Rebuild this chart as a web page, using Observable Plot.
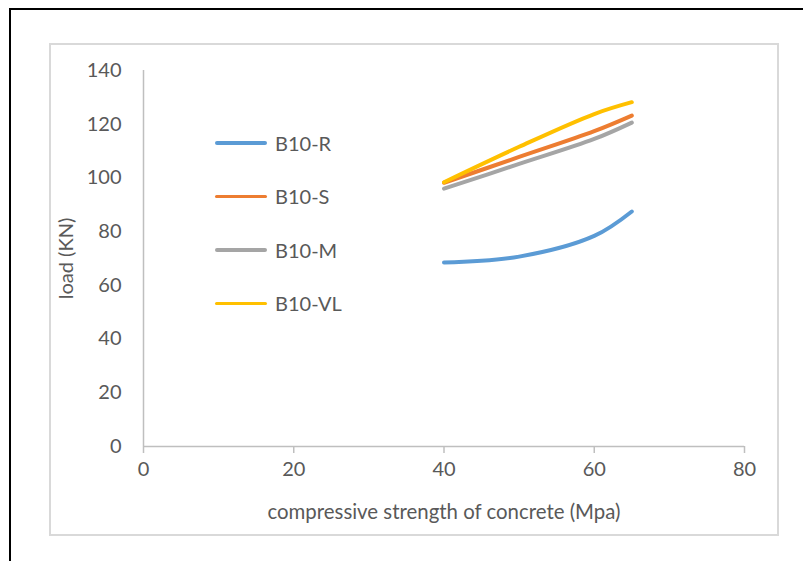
<!DOCTYPE html>
<html>
<head>
<meta charset="utf-8">
<script src="https://cdn.jsdelivr.net/npm/d3@7"></script>
<script src="https://cdn.jsdelivr.net/npm/@observablehq/plot@0.6"></script>
<style>
  html, body { margin: 0; padding: 0; background: #fff; }
  #wrap { position: relative; width: 803px; height: 561px; overflow: hidden; font-family: Lato, "Open Sans", sans-serif; }
  #outer { position: absolute; left: 9px; top: 8px; right: -5px; bottom: -5px; border-top: 2px solid #000; border-left: 2px solid #000; }
  #inner { position: absolute; left: 49px; top: 43px; width: 726px; height: 489px; border: 2px solid #d9d9d9; }
  #chart { position: absolute; left: 0; top: 0; }
  #legend { position: absolute; left: 215px; top: 116px; }
  .item { display: flex; align-items: center; height: 53.5px; color: #595959; font-size: 20px; }
  .swatch { width: 52px; height: 3.5px; border-radius: 2px; margin-right: 8px; }
</style>
</head>
<body>
<div id="wrap">
  <div id="outer"></div>
  <div id="inner"></div>
  <div id="chart"></div>
  <div id="legend"></div>
</div>
<script>
// Compressive strength of concrete (MPa)
const strength = [40, 50, 60, 65];
// Load (kN) for each beam series
const seriesNames = ["B10-R", "B10-S", "B10-M", "B10-VL"];
const loadR  = [68.5, 70.7, 78.4, 87.5];
const loadS  = [98.2, 107.8, 117.4, 123.2];
const loadM  = [96.0, 105.2, 114.5, 120.6];
const loadVL = [98.4, 111.6, 123.8, 128.2];
const colors = ["#5B9BD5", "#ED7D31", "#A5A5A5", "#FFC000"];
const xTicks = [0, 20, 40, 60, 80];
const yTicks = [0, 20, 40, 60, 80, 100, 120, 140];

const seriesValues = [loadR, loadS, loadM, loadVL];
const rows = seriesNames.flatMap((name, i) =>
  strength.map((x, j) => ({series: name, strength: x, load: seriesValues[i][j]}))
);

const axisColor = "#bfbfbf";
const textColor = "#595959";

const chart = Plot.plot({
  width: 803,
  height: 561,
  marginLeft: 143,
  marginRight: 59,
  marginTop: 70,
  marginBottom: 115,
  style: {fontFamily: "Lato, 'Open Sans', sans-serif", background: "transparent", overflow: "visible"},
  x: {domain: [0, 80]},
  y: {domain: [0, 140]},
  color: {domain: seriesNames, range: colors},
  marks: [
    Plot.ruleX([0], {y1: 0, y2: 140, stroke: axisColor, strokeWidth: 1.5}),
    Plot.ruleY([0], {x1: 0, x2: 80, stroke: axisColor, strokeWidth: 1.5}),
    Plot.axisX({ticks: xTicks, tickSize: 7, tickPadding: 8, stroke: axisColor, strokeWidth: 1.5, fill: textColor, fontSize: 20, label: null}),
    Plot.axisY({ticks: yTicks, tickSize: 0, tickPadding: 22, fill: textColor, fontSize: 20, label: null}),
    Plot.text(["compressive strength of concrete (Mpa)"], {frameAnchor: "bottom", dy: 72, fill: textColor, fontSize: 20.4}),
    Plot.text(["load (KN)"], {frameAnchor: "left", textAnchor: "middle", dx: -77, rotate: -90, fill: textColor, fontSize: 20}),
    Plot.line(rows, {x: "strength", y: "load", z: "series", stroke: "series", strokeWidth: 4, curve: "catmull-rom", strokeLinecap: "round"})
  ]
});
document.getElementById("chart").appendChild(chart);

const legend = document.getElementById("legend");
seriesNames.forEach((name, i) => {
  const item = document.createElement("div");
  item.className = "item";
  const sw = document.createElement("div");
  sw.className = "swatch";
  sw.style.background = colors[i];
  const label = document.createElement("span");
  label.textContent = name;
  item.appendChild(sw);
  item.appendChild(label);
  legend.appendChild(item);
});
</script>
</body>
</html>
